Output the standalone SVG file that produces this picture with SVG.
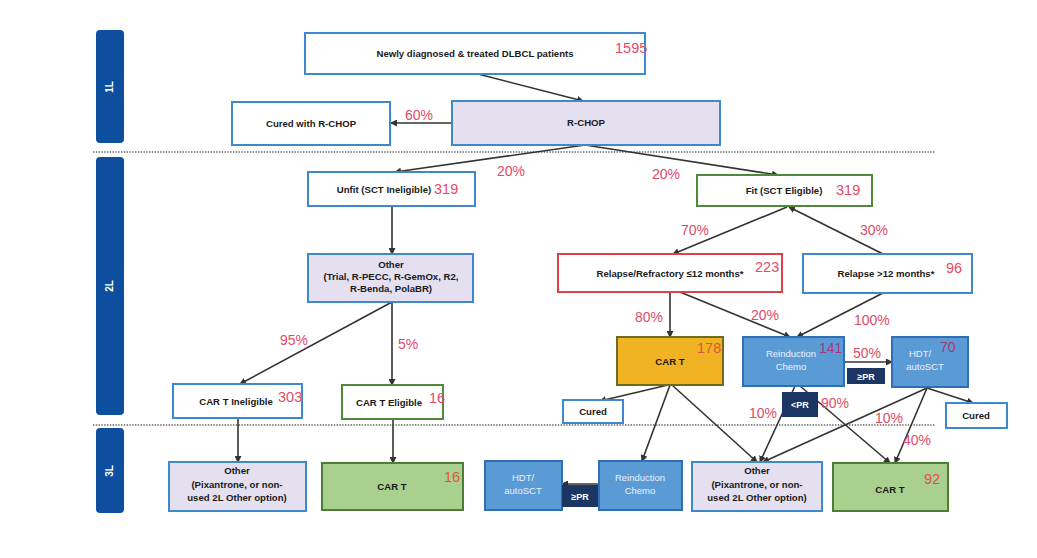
<svg xmlns="http://www.w3.org/2000/svg" width="1037" height="558" viewBox="0 0 1037 558">
  <defs>
    <marker id="arr" markerUnits="userSpaceOnUse" markerWidth="7" markerHeight="7" refX="6" refY="3.5" orient="auto">
      <path d="M0,0 L7,3.5 L0,7 z" fill="#333"/>
    </marker>
    <style>
      .bar { fill: #0D4F9E; }
      .barT { font-family: "Liberation Sans", Arial, sans-serif; font-size: 10px; font-weight: bold; fill: #fff; text-anchor: middle; }
      .sep { stroke: #8a8a8a; stroke-width: 2.2; stroke-dasharray: 1.4 1.4; fill: none; }
      .bx { fill: #fff; stroke: #3E88CB; stroke-width: 2; }
      .lav { fill: #E4E0F0; stroke: #3E88CB; stroke-width: 2; }
      .grn { fill: #fff; stroke: #4E8A3A; stroke-width: 2; }
      .red { fill: #fff; stroke: #E0404A; stroke-width: 2; }
      .gld { fill: #F0B323; stroke: #6E6A1E; stroke-width: 2; }
      .gfill { fill: #A9D08E; stroke: #4E7E32; stroke-width: 2; }
      .blu { fill: #5B9BD5; stroke: #2F6FB5; stroke-width: 2; }
      .navy { fill: #1C3664; }
      .t { font-family: "Liberation Sans", Arial, sans-serif; font-size: 9.6px; font-weight: bold; fill: #1a1a1a; text-anchor: middle; }
      .tw { font-family: "Liberation Sans", Arial, sans-serif; font-size: 9.5px; fill: #EAF1FB; text-anchor: middle; }
      .tn { font-family: "Liberation Sans", Arial, sans-serif; font-size: 9px; font-weight: bold; fill: #fff; text-anchor: middle; }
      .pct { font-family: "Liberation Sans", Arial, sans-serif; font-size: 14px; fill: #E24A66; }
      .num { font-family: "Liberation Sans", Arial, sans-serif; font-size: 14.5px; fill: #E24A66; }
      .numo { font-family: "Liberation Sans", Arial, sans-serif; font-size: 14.5px; fill: #E2553A; }
      .nump { font-family: "Liberation Sans", Arial, sans-serif; font-size: 14px; fill: #A8377A; }
      .ln { stroke: #333; stroke-width: 1.6; fill: none; marker-end: url(#arr); }
    </style>
  </defs>

  <rect width="1037" height="558" fill="#fff"/>

  <!-- line-of-therapy bands -->
  <g id="bands">
    <rect class="bar" x="96" y="30" width="28" height="113" rx="4"/>
    <text class="barT" transform="translate(113,87) rotate(-90)">1L</text>
    <rect class="bar" x="96" y="157" width="28" height="258" rx="4"/>
    <text class="barT" transform="translate(113,286) rotate(-90)">2L</text>
    <rect class="bar" x="96" y="428" width="28" height="85" rx="4"/>
    <text class="barT" transform="translate(113,471) rotate(-90)">3L</text>
    <line class="sep" x1="93" y1="152" x2="935" y2="152"/>
    <line class="sep" x1="93" y1="425" x2="935" y2="425"/>
  </g>

  <!-- connectors -->
  <g id="connectors">
    <line class="ln" x1="478" y1="74" x2="583" y2="101"/>
    <line class="ln" x1="452" y1="123" x2="391" y2="123"/>
    <line class="ln" x1="585" y1="145" x2="395" y2="172"/>
    <line class="ln" x1="585" y1="145" x2="778" y2="175"/>
    <line class="ln" x1="392" y1="206" x2="392" y2="254"/>
    <line class="ln" x1="392" y1="302" x2="240" y2="384"/>
    <line class="ln" x1="392" y1="302" x2="392" y2="385"/>
    <line class="ln" x1="238" y1="418" x2="238" y2="462"/>
    <line class="ln" x1="393" y1="419" x2="393" y2="463"/>
    <line class="ln" x1="787" y1="207" x2="673" y2="254"/>
    <line class="ln" x1="883" y1="254" x2="789" y2="207"/>
    <line class="ln" x1="670" y1="292" x2="670" y2="337"/>
    <line class="ln" x1="680" y1="292" x2="790" y2="337"/>
    <line class="ln" x1="883" y1="293" x2="797" y2="337"/>
    <line class="ln" x1="844" y1="362" x2="892" y2="362"/>
    <line class="ln" x1="668" y1="385" x2="600" y2="401"/>
    <line class="ln" x1="670" y1="385" x2="642" y2="461"/>
    <line class="ln" x1="672" y1="385" x2="757" y2="462"/>
    <line class="ln" x1="795" y1="386" x2="760" y2="462"/>
    <line class="ln" x1="800" y1="386" x2="890" y2="463"/>
    <line class="ln" x1="927" y1="388" x2="763" y2="462"/>
    <line class="ln" x1="927" y1="388" x2="895" y2="463"/>
    <line class="ln" x1="927" y1="388" x2="973" y2="403"/>
    <line class="ln" x1="599" y1="484" x2="562" y2="484"/>
  </g>

  <!-- 1L -->
  <g id="n-newly">
    <rect class="bx" x="305" y="33" width="340" height="41"/>
    <text class="t" x="475" y="57">Newly diagnosed &amp; treated DLBCL patients</text>
    <text class="num" x="615" y="53">1595</text>
  </g>
  <g id="n-rchop">
    <rect class="lav" x="452" y="101" width="268" height="44"/>
    <text class="t" x="586" y="126">R-CHOP</text>
  </g>
  <g id="n-cured-rchop">
    <rect class="bx" x="232" y="102" width="158" height="43"/>
    <text class="t" x="311" y="127">Cured with R-CHOP</text>
  </g>

  <!-- 2L -->
  <g id="n-unfit">
    <rect class="bx" x="308" y="172" width="167" height="34"/>
    <text class="t" x="384" y="193">Unfit (SCT Ineligible)</text>
    <text class="num" x="434" y="194">319</text>
  </g>
  <g id="n-fit">
    <rect class="grn" x="697" y="175" width="175" height="31"/>
    <text class="t" x="784" y="194">Fit (SCT Eligible)</text>
    <text class="num" x="836" y="195">319</text>
  </g>
  <g id="n-other-2l">
    <rect class="lav" x="308" y="254" width="165" height="48"/>
    <text class="t" x="391" y="268">Other</text>
    <text class="t" x="391" y="280">(Trial, R-PECC, R-GemOx, R2,</text>
    <text class="t" x="391" y="292">R-Benda, PolaBR)</text>
  </g>
  <g id="n-cart-inelig">
    <rect class="bx" x="173" y="384" width="129" height="34"/>
    <text class="t" x="236" y="405">CAR T Ineligible</text>
    <text class="num" x="278" y="402">303</text>
  </g>
  <g id="n-cart-elig">
    <rect class="grn" x="342" y="385" width="101" height="34"/>
    <text class="t" x="389" y="406">CAR T Eligible</text>
    <text class="num" x="429" y="403">16</text>
  </g>
  <g id="n-rr12">
    <rect class="red" x="558" y="254" width="224" height="38"/>
    <text class="t" x="670" y="277">Relapse/Refractory ≤12 months*</text>
    <text class="num" x="755" y="272">223</text>
  </g>
  <g id="n-r12">
    <rect class="bx" x="803" y="254" width="169" height="39"/>
    <text class="t" x="886" y="277">Relapse &gt;12 months*</text>
    <text class="num" x="946" y="273">96</text>
  </g>
  <g id="n-cart-178">
    <rect class="gld" x="617" y="337" width="106" height="48"/>
    <text class="t" x="670" y="365">CAR T</text>
    <text class="numo" x="697" y="353">178</text>
  </g>
  <g id="n-reind-2l">
    <rect class="blu" x="743" y="337" width="101" height="49"/>
    <text class="tw" x="791" y="357">Reinduction</text>
    <text class="tw" x="791" y="370">Chemo</text>
    <text class="nump" x="819" y="353">141</text>
  </g>
  <g id="n-hdt-2l">
    <rect class="blu" x="892" y="337" width="76" height="50"/>
    <text class="tw" x="920" y="357">HDT/</text>
    <text class="tw" x="925" y="370">autoSCT</text>
    <text class="nump" x="940" y="352">70</text>
  </g>
  <g id="n-ge-pr">
    <rect class="navy" x="847" y="368" width="38" height="16"/>
    <text class="tn" x="866" y="380">≥PR</text>
  </g>
  <g id="n-lt-pr">
    <rect class="navy" x="782" y="392" width="36" height="25"/>
    <text class="tn" x="800" y="408">&lt;PR</text>
  </g>
  <g id="n-cured-a">
    <rect class="bx" x="563" y="400" width="60" height="23"/>
    <text class="t" x="593" y="415">Cured</text>
  </g>
  <g id="n-cured-b">
    <rect class="bx" x="946" y="403" width="61" height="25"/>
    <text class="t" x="976" y="419">Cured</text>
  </g>

  <!-- 3L -->
  <g id="n-other-3l-a">
    <rect class="lav" x="169" y="462" width="137" height="49"/>
    <text class="t" x="237" y="474">Other</text>
    <text class="t" x="237" y="488">(Pixantrone, or non-</text>
    <text class="t" x="237" y="501">used 2L Other option)</text>
  </g>
  <g id="n-cart-16">
    <rect class="gfill" x="322" y="463" width="141" height="47"/>
    <text class="t" x="392" y="490">CAR T</text>
    <text class="numo" x="444" y="482">16</text>
  </g>
  <g id="n-hdt-3l">
    <rect class="blu" x="485" y="461" width="77" height="49"/>
    <text class="tw" x="523" y="481">HDT/</text>
    <text class="tw" x="523" y="494">autoSCT</text>
  </g>
  <g id="n-ge-pr-3l">
    <rect class="navy" x="562" y="485" width="37" height="22"/>
    <text class="tn" x="580" y="500">≥PR</text>
  </g>
  <g id="n-reind-3l">
    <rect class="blu" x="599" y="461" width="83" height="49"/>
    <text class="tw" x="640" y="481">Reinduction</text>
    <text class="tw" x="640" y="494">Chemo</text>
  </g>
  <g id="n-other-3l-b">
    <rect class="lav" x="692" y="462" width="130" height="49"/>
    <text class="t" x="757" y="474">Other</text>
    <text class="t" x="757" y="488">(Pixantrone, or non-</text>
    <text class="t" x="757" y="501">used 2L Other option)</text>
  </g>
  <g id="n-cart-92">
    <rect class="gfill" x="833" y="463" width="115" height="48"/>
    <text class="t" x="890" y="493">CAR T</text>
    <text class="num" x="924" y="484">92</text>
  </g>

  <!-- branch percentages -->
  <g id="pcts">
    <text class="pct" x="405" y="120">60%</text>
    <text class="pct" x="497" y="176">20%</text>
    <text class="pct" x="652" y="179">20%</text>
    <text class="pct" x="681" y="235">70%</text>
    <text class="pct" x="860" y="235">30%</text>
    <text class="pct" x="635" y="322">80%</text>
    <text class="pct" x="751" y="320">20%</text>
    <text class="pct" x="854" y="325">100%</text>
    <text class="pct" x="853" y="358">50%</text>
    <text class="pct" x="749" y="418">10%</text>
    <text class="pct" x="821" y="408">90%</text>
    <text class="pct" x="875" y="423">10%</text>
    <text class="pct" x="903" y="445">40%</text>
    <text class="pct" x="280" y="345">95%</text>
    <text class="pct" x="398" y="349">5%</text>
  </g>
</svg>
